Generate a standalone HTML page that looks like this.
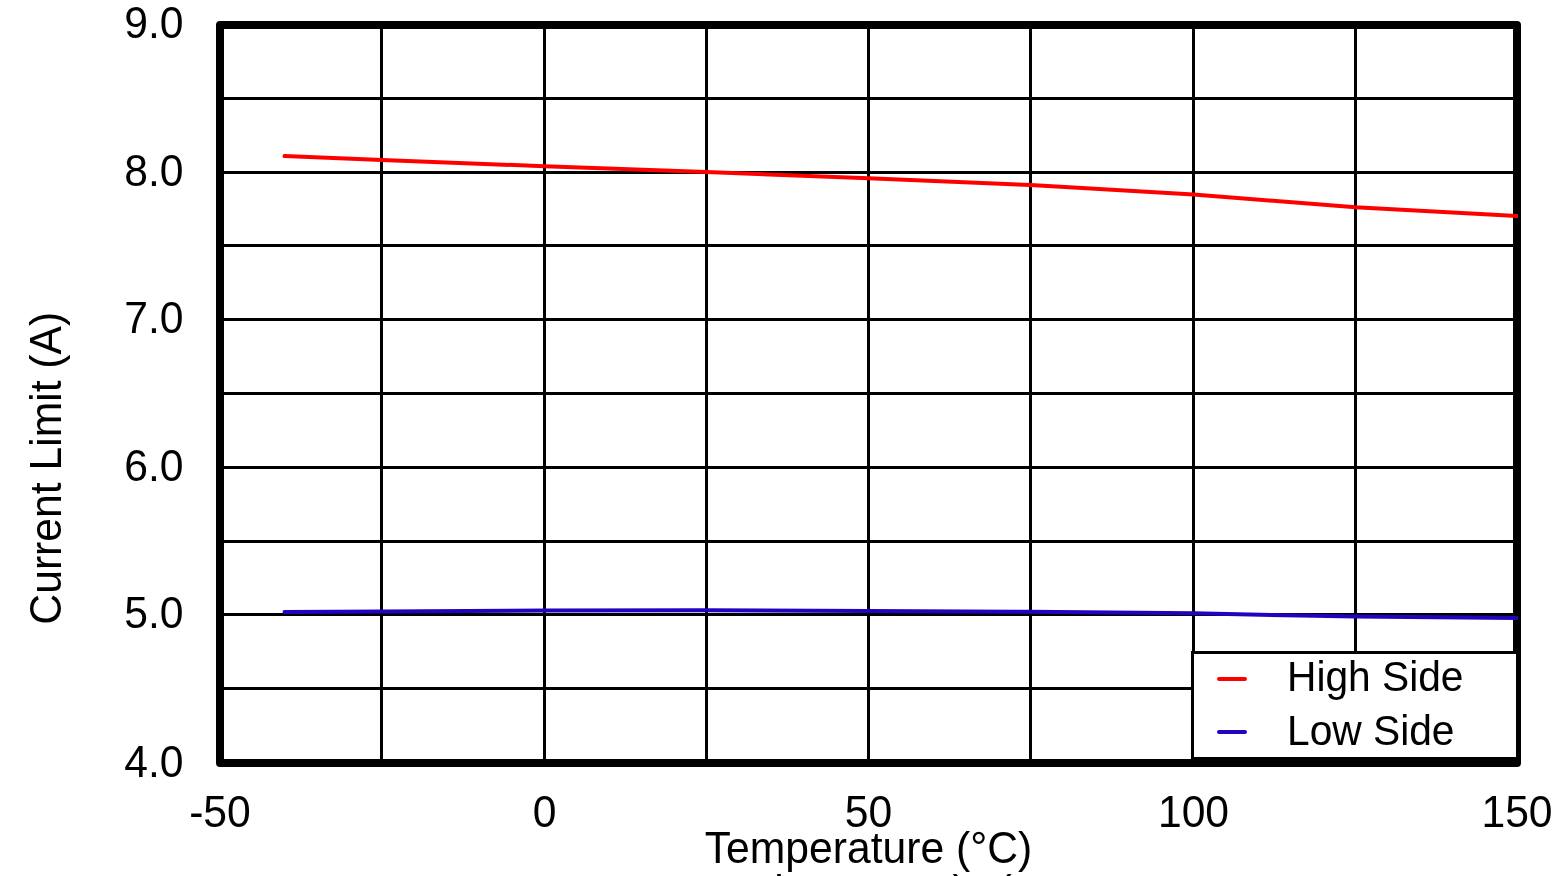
<!DOCTYPE html>
<html lang="en">
<head>
<meta charset="utf-8">
<title>Current Limit vs Temperature</title>
<style>
html,body{margin:0;padding:0;background:#fff;}
body{width:1560px;height:876px;overflow:hidden;}
svg{display:block;will-change:transform;}
text{font-family:"Liberation Sans",sans-serif;fill:#000;}
.tick{font-size:42.67px;}
.title{font-size:42.67px;}
.leg{font-size:40px;}
</style>
</head>
<body>
<svg width="1560" height="876" viewBox="0 0 1560 876">
<defs><clipPath id="plotclip"><rect x="200" y="0" width="1318" height="876"/></clipPath></defs>
<rect x="0" y="0" width="1560" height="876" fill="#ffffff"/>

<g stroke="#000" stroke-width="3" fill="none">
<line x1="381.50" y1="25.0" x2="381.50" y2="763.0"/>
<line x1="544.50" y1="25.0" x2="544.50" y2="763.0"/>
<line x1="706.50" y1="25.0" x2="706.50" y2="763.0"/>
<line x1="868.50" y1="25.0" x2="868.50" y2="763.0"/>
<line x1="1030.50" y1="25.0" x2="1030.50" y2="763.0"/>
<line x1="1193.50" y1="25.0" x2="1193.50" y2="763.0"/>
<line x1="1355.50" y1="25.0" x2="1355.50" y2="763.0"/>
<line x1="220.0" y1="98.50" x2="1517.0" y2="98.50"/>
<line x1="220.0" y1="172.50" x2="1517.0" y2="172.50"/>
<line x1="220.0" y1="245.50" x2="1517.0" y2="245.50"/>
<line x1="220.0" y1="319.50" x2="1517.0" y2="319.50"/>
<line x1="220.0" y1="393.50" x2="1517.0" y2="393.50"/>
<line x1="220.0" y1="467.50" x2="1517.0" y2="467.50"/>
<line x1="220.0" y1="541.50" x2="1517.0" y2="541.50"/>
<line x1="220.0" y1="614.50" x2="1517.0" y2="614.50"/>
<line x1="220.0" y1="688.50" x2="1517.0" y2="688.50"/>
</g>
<rect x="220.0" y="25.0" width="1297.0" height="738.0" fill="none" stroke="#000" stroke-width="8" stroke-linejoin="round"/>
<g clip-path="url(#plotclip)" fill="none" stroke-width="4" stroke-linecap="round" stroke-linejoin="round">
<polyline points="284.5,156.1 382.0,160.0 544.5,166.2 706.5,172.0 868.5,178.3 1030.5,185.0 1193.5,194.6 1355.5,207.2 1517.0,216.0 1530.0,216.7" stroke="#ff0000"/>
<polyline points="284.5,612.1 382.0,611.5 544.5,610.5 706.5,610.3 868.5,611.0 1030.5,611.7 1193.5,613.3 1300.0,615.5 1355.5,616.6 1517.0,618.0 1530.0,618.1" stroke="#2005bf"/>
</g>
<rect x="1192.5" y="652.5" width="325" height="106" fill="#fff" stroke="#000" stroke-width="3"/>
<line x1="1219" y1="679.1" x2="1245" y2="679.1" stroke="#ff0000" stroke-width="4" stroke-linecap="round"/>
<line x1="1219" y1="732" x2="1245" y2="732" stroke="#2005bf" stroke-width="4" stroke-linecap="round"/>
<text class="leg" transform="translate(1287.00,690.60) scale(1.018,1.045)">High Side</text>
<text class="leg" transform="translate(1287.00,744.80) scale(1.018,1.045)">Low Side</text>
<text class="tick" text-anchor="end" transform="translate(183.50,38.00) scale(1.0,1.045)">9.0</text>
<text class="tick" text-anchor="end" transform="translate(183.50,185.70) scale(1.0,1.045)">8.0</text>
<text class="tick" text-anchor="end" transform="translate(183.50,333.40) scale(1.0,1.045)">7.0</text>
<text class="tick" text-anchor="end" transform="translate(183.50,480.70) scale(1.0,1.045)">6.0</text>
<text class="tick" text-anchor="end" transform="translate(183.50,627.80) scale(1.0,1.045)">5.0</text>
<text class="tick" text-anchor="end" transform="translate(183.50,776.50) scale(1.0,1.045)">4.0</text>
<text class="tick" text-anchor="middle" transform="translate(220.00,827.00) scale(1.0,1.045)">-50</text>
<text class="tick" text-anchor="middle" transform="translate(544.50,827.00) scale(1.0,1.045)">0</text>
<text class="tick" text-anchor="middle" transform="translate(868.50,827.00) scale(1.0,1.045)">50</text>
<text class="tick" text-anchor="middle" transform="translate(1193.50,827.00) scale(1.0,1.045)">100</text>
<text class="tick" text-anchor="middle" transform="translate(1517.00,827.00) scale(1.0,1.045)">150</text>
<text class="title" text-anchor="middle" transform="translate(868.50,863.00) scale(1.0,1.045)">Temperature (°C)</text>
<text class="title" text-anchor="middle" transform="translate(61.00,468.20) rotate(-90) scale(1.0,1.045)">Current Limit (A)</text>
<text class="title" transform="translate(774.20,906.00) scale(1.0,1.045)">l</text>
<text class="title" transform="translate(952.60,906.00) scale(1.0,1.045)">)</text>
<text class="title" transform="translate(997.40,906.00) scale(1.0,1.045)">(</text>
</svg>
</body>
</html>
